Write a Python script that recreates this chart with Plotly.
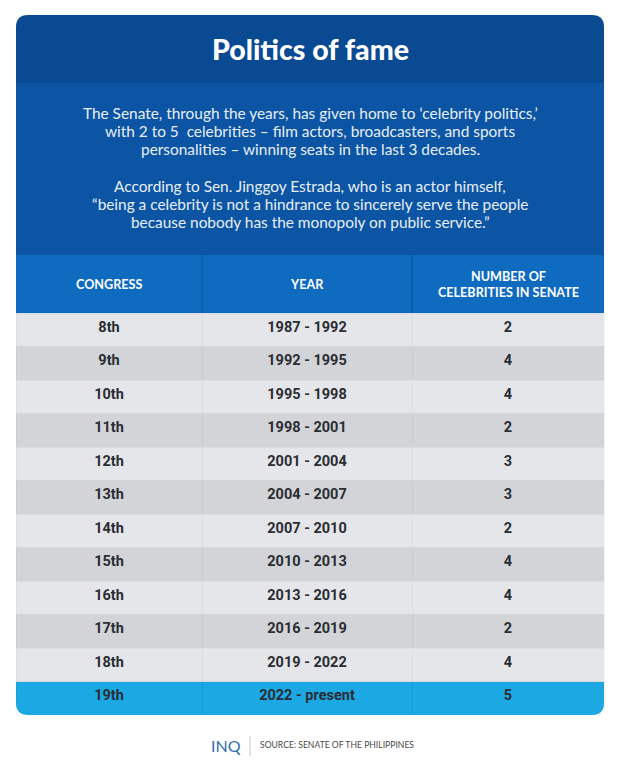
import plotly.graph_objects as go

# ---- data ----
congress = ["8th", "9th", "10th", "11th", "12th", "13th", "14th", "15th",
            "16th", "17th", "18th", "19th"]
years = ["1987 - 1992", "1992 - 1995", "1995 - 1998", "1998 - 2001", "2001 - 2004",
         "2004 - 2007", "2007 - 2010", "2010 - 2013", "2013 - 2016", "2016 - 2019",
         "2019 - 2022", "2022 - present"]
celebrities = [2, 4, 4, 2, 3, 3, 2, 4, 4, 2, 4, 5]
headers = ["CONGRESS", "YEAR", "NUMBER OF<br>CELEBRITIES IN SENATE"]

title = "Politics of fame"
subtitle_lines = [
    "The Senate, through the years, has given home to ‘celebrity politics,’",
    "with 2 to 5  celebrities – film actors, broadcasters, and sports",
    "personalities – winning seats in the last 3 decades.",
    "",
    "According to Sen. Jinggoy Estrada, who is an actor himself,",
    "“being a celebrity is not a hindrance to sincerely serve the people",
    "because nobody has the monopoly on public service.”",
]
source = "SOURCE: SENATE OF THE PHILIPPINES"

# page body has an 8px default margin; work in window pixel coordinates
OFF = 8
W, H = 604, 761
def px(x): return (x - OFF) / W
def py(y): return 1 - (y - OFF) / H

X0, X1 = 16, 604
TOP, TITLE_BOT, HEAD_TOP, HEAD_BOT, BOT = 15, 83, 255, 313, 715
COLW = [186, 210, 192]
col_edges = [X0, X0 + COLW[0], X0 + COLW[0] + COLW[1], X1]

LIGHT, DARK, CYAN = "#e4e6e9", "#d2d4d7", "#1ca8e2"
n = len(congress)
row_colors = [LIGHT if i % 2 == 0 else DARK for i in range(n)]
row_colors[-1] = "rgba(0,0,0,0)"  # last row drawn by rounded highlight shape below
ROW_H = (BOT - HEAD_BOT) / n

fig = go.Figure()
fig.add_trace(go.Table(
    domain=dict(x=[px(X0), px(X1)], y=[py(BOT), py(HEAD_TOP)]),
    columnwidth=COLW,
    header=dict(
        values=["", "", ""],
        fill_color="rgba(0,0,0,0)",
        line=dict(color="rgba(0,0,0,0)", width=0),
        height=HEAD_BOT - HEAD_TOP,
    ),
    cells=dict(
        values=[congress, years, celebrities],
        fill_color=[row_colors] * 3,
        line=dict(color="rgba(0,0,0,0.035)", width=1),
        align="center",
        height=ROW_H,
        font=dict(family="Roboto", size=14.5, color="#2a2d33", weight="bold"),
    ),
))

r = 12
rx, ry = r / W, r / H
path_top = (f"M {px(X0)},{py(TITLE_BOT)} L {px(X0)},{py(TOP)-ry} "
            f"Q {px(X0)},{py(TOP)} {px(X0)+rx},{py(TOP)} "
            f"L {px(X1)-rx},{py(TOP)} Q {px(X1)},{py(TOP)} {px(X1)},{py(TOP)-ry} "
            f"L {px(X1)},{py(TITLE_BOT)} Z")
last_top = BOT - ROW_H
path_bot = (f"M {px(X0)},{py(last_top)} L {px(X0)},{py(BOT)+ry} "
            f"Q {px(X0)},{py(BOT)} {px(X0)+rx},{py(BOT)} "
            f"L {px(X1)-rx},{py(BOT)} Q {px(X1)},{py(BOT)} {px(X1)},{py(BOT)+ry} "
            f"L {px(X1)},{py(last_top)} Z")
shapes = [
    dict(type="path", xref="paper", yref="paper", path=path_top,
         fillcolor="#0a4a92", line=dict(width=0), layer="below"),
    dict(type="rect", xref="paper", yref="paper",
         x0=px(X0), x1=px(X1), y0=py(HEAD_TOP), y1=py(TITLE_BOT),
         fillcolor="#0b55a4", line=dict(width=0), layer="below"),
    dict(type="rect", xref="paper", yref="paper",
         x0=px(X0), x1=px(X1), y0=py(HEAD_BOT), y1=py(HEAD_TOP),
         fillcolor="#0f6bbf", line=dict(width=0), layer="below"),
    dict(type="path", xref="paper", yref="paper", path=path_bot,
         fillcolor=CYAN, line=dict(width=0), layer="below"),
    # footer separator
    dict(type="line", xref="paper", yref="paper",
         x0=px(250), x1=px(250), y0=py(736), y1=py(756),
         line=dict(color="#c8c8c8", width=1)),
]
# header column separators
for xe in col_edges[1:-1]:
    shapes.append(dict(type="line", xref="paper", yref="paper",
                       x0=px(xe), x1=px(xe), y0=py(HEAD_BOT), y1=py(HEAD_TOP),
                       line=dict(color="#0c5eae", width=2), layer="below"))

annotations = [
    dict(text=title, x=px(310), y=py(49), xref="paper", yref="paper",
         showarrow=False, xanchor="center", yanchor="middle",
         font=dict(family="Lato", size=28.5, color="white", weight=900)),
]
for i, line in enumerate(subtitle_lines):
    if not line:
        continue
    annotations.append(dict(text=line, x=px(310), y=py(113 + i * 18.2),
                            xref="paper", yref="paper", showarrow=False,
                            xanchor="center", yanchor="middle",
                            font=dict(family="Lato", size=15.4, color="#e8eef6")))
for j, h in enumerate(headers):
    annotations.append(dict(text=h, x=px((col_edges[j] + col_edges[j + 1]) / 2),
                            y=py((HEAD_TOP + HEAD_BOT) / 2),
                            xref="paper", yref="paper", showarrow=False,
                            xanchor="center", yanchor="middle", align="center",
                            font=dict(family="Lato", size=12.6, color="white",
                                      weight="bold")))
annotations += [
    dict(text="INQ", x=px(243), y=py(745), xref="paper", yref="paper",
         showarrow=False, xanchor="right", yanchor="middle",
         font=dict(family="Lato", size=16, color="#2f6db4")),
    dict(text=source, x=px(258), y=py(745), xref="paper", yref="paper",
         showarrow=False, xanchor="left", yanchor="middle",
         font=dict(family="Lato", size=8.6, color="#4a4a4a")),
]

fig.update_layout(
    width=W, height=H,
    margin=dict(l=0, r=0, t=0, b=0),
    paper_bgcolor="white", plot_bgcolor="white",
    shapes=shapes, annotations=annotations,
    showlegend=False,
)
fig.write_html("out.html")
